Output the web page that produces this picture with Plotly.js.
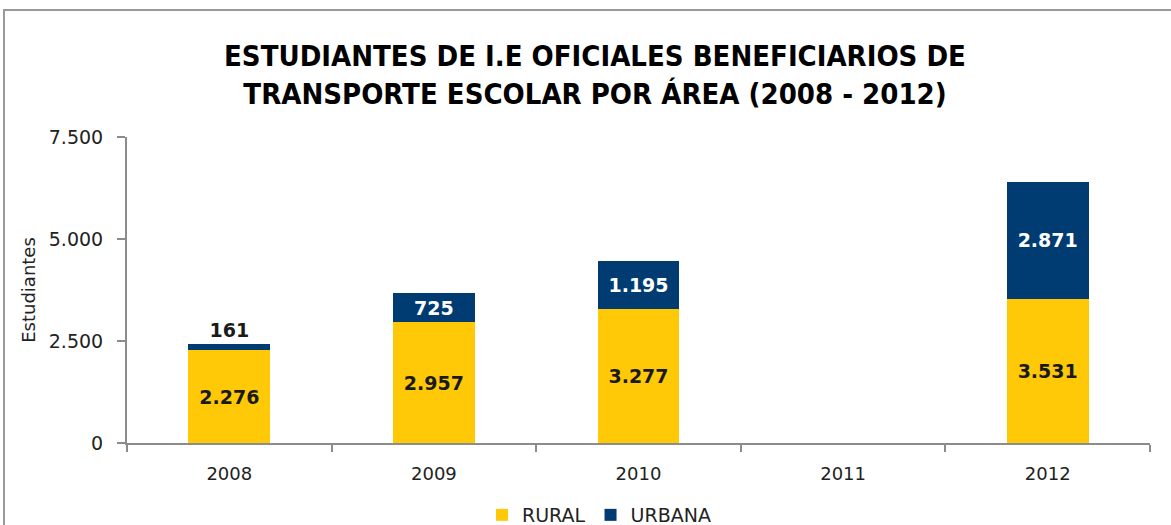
<!DOCTYPE html>
<html>
<head>
<meta charset="utf-8">
<script src="https://cdn.plot.ly/plotly-3.0.1.min.js"></script>
<style>
html,body{margin:0;padding:0;background:#fff;}
#chart{width:1171px;height:525px;}
</style>
</head>
<body>
<div id="chart"></div>
<script>
const years = ['2008', '2009', '2010', '2011', '2012'];
const rural = [2276, 2957, 3277, null, 3531];
const urbana = [161, 725, 1195, null, 2871];
const urbanaTextPos = ['outside', 'inside', 'inside', 'inside', 'inside'];

const baseFont = 'DejaVu Sans, sans-serif';

const traces = [
  {
    type: 'bar', name: 'RURAL', x: years, y: rural,
    marker: {color: '#FFC908'},
    texttemplate: '%{y:,d}', textposition: 'inside', insidetextanchor: 'middle',
    textfont: {family: baseFont, size: 19, color: '#1a1a1a', weight: 'bold'},
    constraintext: 'none', cliponaxis: false, hoverinfo: 'skip'
  },
  {
    type: 'bar', name: 'URBANA', x: years, y: urbana,
    marker: {color: '#003B71'},
    texttemplate: '%{y:,d}', textposition: urbanaTextPos, insidetextanchor: 'middle',
    insidetextfont: {family: baseFont, size: 19, color: '#ffffff', weight: 'bold'},
    outsidetextfont: {family: baseFont, size: 19, color: '#1a1a1a', weight: 'bold'},
    constraintext: 'none', cliponaxis: false, hoverinfo: 'skip'
  }
];

const px = v => (v - 127) / (1150 - 127);
const py = v => (443 - v) / (443 - 137);

const layout = {
  width: 1171, height: 525,
  margin: {l: 127, r: 21, t: 137, b: 82, autoexpand: false},
  paper_bgcolor: '#ffffff', plot_bgcolor: '#ffffff',
  separators: ',.',
  barmode: 'stack', bargap: 0.6,
  showlegend: true,
  title: {
    text: 'ESTUDIANTES DE I.E OFICIALES BENEFICIARIOS DE<br>TRANSPORTE ESCOLAR POR ÁREA (2008 - 2012)',
    font: {family: 'DejaVu Sans Condensed, DejaVu Sans, sans-serif', size: 29, color: '#000000', weight: 'bold', stretch: 'condensed'},
    x: px(595), xref: 'paper', xanchor: 'center', y: 1 - 66 / 525, yref: 'container', yanchor: 'middle'
  },
  xaxis: {
    type: 'category', categoryorder: 'array', categoryarray: years,
    showline: true, linecolor: '#8c8c8c', linewidth: 2,
    ticks: 'outside', tickson: 'boundaries', ticklen: 7, tickcolor: '#8c8c8c', tickwidth: 2,
    ticklabelstandoff: 13,
    tickfont: {family: baseFont, size: 18, color: '#222222'},
    showgrid: false, zeroline: false, fixedrange: true
  },
  yaxis: {
    range: [0, 7500], tickvals: [0, 2500, 5000, 7500], tickformat: ',d',
    showline: true, linecolor: '#8c8c8c', linewidth: 2,
    ticks: 'outside', ticklen: 8, tickcolor: '#8c8c8c', tickwidth: 2,
    ticklabelstandoff: 10,
    tickfont: {family: baseFont, size: 19, color: '#222222'},
    showgrid: false, zeroline: false, fixedrange: true,
    title: {text: 'Estudiantes', font: {family: baseFont, size: 18, color: '#222222'}, standoff: 8}
  },
  legend: {
    orientation: 'h', x: px(599), xanchor: 'center', y: py(515), yanchor: 'middle',
    font: {family: baseFont, size: 19, color: '#222222'},
    itemwidth: 30, traceorder: 'normal', itemclick: false
  },
  shapes: [
    {type: 'path', xref: 'paper', yref: 'paper',
     path: `M ${px(4)} ${py(530)} L ${px(4)} ${py(10)} L ${px(1175)} ${py(10)}`,
     line: {color: '#9a9a9a', width: 2}}
  ]
};

Plotly.newPlot('chart', traces, layout, {displayModeBar: false, staticPlot: true});
</script>
</body>
</html>
